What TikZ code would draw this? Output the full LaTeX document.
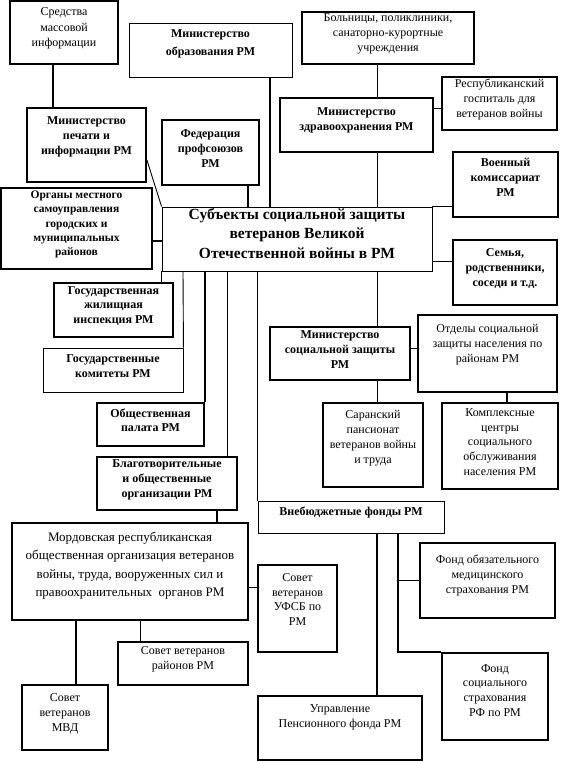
\documentclass[tikz,border=0pt]{standalone}
\usepackage{fontspec}
\setmainfont{Liberation Serif}
\usetikzlibrary{fit}
\tikzset{
  bx/.style={draw, line width=1.8pt, inner sep=0pt, align=center, font=\fontsize{12}{14.8}\selectfont},
  tbx/.style={bx, line width=0.9pt},
  bf/.style={font=\fontsize{12}{14.8}\selectfont\bfseries},
  lbl/.style={align=center, inner sep=0pt, font=\fontsize{12}{14.8}\selectfont},
  lblb/.style={lbl, font=\fontsize{12}{14.8}\selectfont\bfseries},
  ln/.style={line width=0.9pt},
  tln/.style={line width=1.8pt},
}
\begin{document}
\begin{tikzpicture}[x=1pt,y=-1pt]
\useasboundingbox[fill=white] (0,0) rectangle (561,762);
% helper coordinates
\foreach \v in {53,76,140,183,205,217,227,248,270,377,398,507}{\coordinate (v\v) at (\v,0);}
\foreach \h in {108,241,261,348,587}{\coordinate (h\h) at (0,\h);}
% boxes
\node[bx, fit={(10,1)(118,64)}, font=\fontsize{12}{15.5}\selectfont] (smi) {Средства\\массовой\\информации};
\node[tbx, fit={(129,23)(292,77)}, label={[lblb, font=\fontsize{12}{17.5}\selectfont\bfseries, yshift=6pt]center:Министерство\\образования РМ}] (obr) {};
\node[bx, fit={(302,12)(474,64)}] (bol) {Больницы, поликлиники,\\санаторно-курортные\\учреждения};
\node[bx, fit={(280,98)(433,152)}, label={[lblb, yshift=5pt]center:Министерство\\здравоохранения РМ}] (zdrav) {};
\node[bx, fit={(442,77)(557,130)}] (gosp) {Республиканский\\госпиталь для\\ветеранов войны};
\node[bx, fit={(453,152)(558,217)}, label={[lblb, yshift=7pt]center:Военный\\комиссариат\\РМ}] (voen) {};
\node[bx, fit={(27,108)(146,182)}, label={[lblb, yshift=8pt]center:Министерство\\печати и\\информации РМ}] (pech) {};
\node[bx, bf, fit={(162,120)(259,185)}] (fed) {Федерация\\профсоюзов\\РМ};
\node[tbx, fit={(162,207)(432,271)}, font=\fontsize{15.5}{19.5}\selectfont\bfseries] (central) {Субъекты социальной защиты\\ветеранов Великой\\Отечественной войны в РМ};
\node[bx, fit={(1,188)(152,269)}, font=\fontsize{11.5}{14.3}\selectfont\bfseries] (organy) {Органы местного\\самоуправления\\городских и\\муниципальных\\районов};
\node[bx, fit={(453,240)(557,305)}, label={[lblb, yshift=4pt]center:{Семья,\\родственники,\\соседи и т.д.}}] (semya) {};
\node[bx, bf, fit={(54,283)(173,337)}] (zhil) {Государственная\\жилищная\\инспекция РМ};
\node[tbx, bf, fit={(43,348)(183,392)}] (komit) {Государственные\\комитеты РМ};
\node[bx, bf, fit={(97,403)(204,446)}] (palata) {Общественная\\палата РМ};
\node[bx, bf, fit={(97,457)(237,510)}] (blag) {Благотворительные\\и общественные\\организации РМ};
\node[bx, bf, fit={(270,327)(410,380)}] (minsoc) {Министерство\\социальной защиты\\РМ};
\node[bx, fit={(418,315)(557,392)}, label={[lbl, yshift=9pt]center:Отделы социальной\\защиты населения по\\районам РМ}] (otdely) {};
\node[bx, fit={(323,403)(423,487)}, label={[lbl, yshift=7pt]center:Саранский\\пансионат\\ветеранов войны\\и труда}] (saran) {};
\node[bx, fit={(442,403)(558,489)}] (kompl) {Комплексные\\центры\\социального\\обслуживания\\населения РМ};
\node[tbx, bf, fit={(258,501)(444,533)}] (vneb) {Внебюджетные фонды РМ};
\node[bx, fit={(12,523)(248,620)}, label={[lbl, font=\fontsize{13}{18.5}\selectfont, yshift=6pt]center:{Мордовская республиканская\\общественная организация ветеранов\\войны, труда, вооруженных сил и\\правоохранительных\ \ органов РМ}}] (mord) {};
\node[bx, fit={(258,565)(337,652)}, label={[lbl, yshift=9pt]center:Совет\\ветеранов\\УФСБ по\\РМ}] (ufsb) {};
\node[bx, fit={(118,642)(248,685)}] (rayon) {Совет ветеранов\\районов РМ};
\node[bx, fit={(22,685)(108,750)}] (mvd) {Совет\\ветеранов\\МВД};
\node[bx, fit={(420,543)(555,618)}, label={[lbl, yshift=5pt]center:Фонд обязательного\\медицинского\\страхования РМ}] (foms) {};
\node[bx, fit={(442,653)(548,740)}, label={[lbl, yshift=6pt]center:Фонд\\социального\\страхования\\РФ по РМ}] (fss) {};
\node[bx, fit={(258,696)(422,760)}, label={[lbl, yshift=11pt]center:Управление\\Пенсионного фонда РМ}] (upf) {};
% connectors
\draw[tln] (smi.south -| v53) -- (pech.north -| v53);
\draw[ln] ([yshift=-15pt]pech.east) -- (central.north west);
\draw[tln] (fed.south -| v248) -- (central.north -| v248);
\draw[tln] (obr.south -| v270) -- (central.north -| v270);
\draw[ln] (bol.south -| v377) -- (zdrav.north -| v377);
\draw[ln] (zdrav.east |- h108) -- (gosp.west |- h108);
\draw[ln] (zdrav.south -| v377) -- (central.north -| v377);
\draw[ln] (central.north east) -- (voen.west |- central.north east);
\draw[ln] (central.east |- h261) -- (semya.west |- h261);
\draw[tln] (organy.east |- h241) -- (central.west |- h241);
\draw[tln] (central.south west) -- (zhil.north -| central.south west);
\draw[ln] (central.south -| v183) -- (komit.north east);
\draw[tln] (central.south -| v205) -- (palata.north -| v205);
\draw[ln] (central.south -| v227) -- (blag.north -| v227);
\draw[tln] (central.south -| vneb.north west) -- (vneb.north west);
\draw[ln] (central.south -| v377) -- (minsoc.north -| v377);
\draw[ln] (minsoc.east |- h348) -- (otdely.west |- h348);
\draw[ln] (minsoc.south -| v377) -- (saran.north -| v377);
\draw[tln] (otdely.south -| v507) -- (kompl.north -| v507);
\draw[tln] (blag.south -| v217) -- (mord.north -| v217);
\draw[ln] (mord.east |- h587) -- (ufsb.west |- h587);
\draw[tln] (mord.south -| v76) -- (mvd.north -| v76);
\draw[ln] (mord.south -| v140) -- (rayon.north -| v140);
\draw[tln] (vneb.south -| v377) -- (upf.north -| v377);
\draw[tln] (vneb.south -| v398) |- (fss.north west);
\draw[tln] (vneb.south -| v398) |- (foms.west);
\end{tikzpicture}
\end{document}
